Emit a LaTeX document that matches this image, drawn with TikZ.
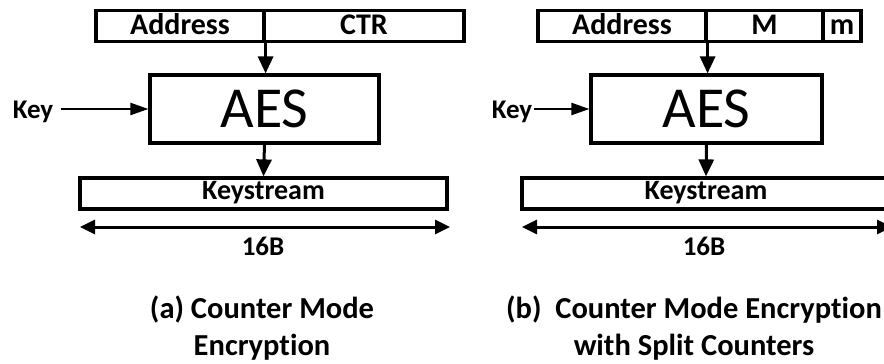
\documentclass[tikz,border=0pt]{standalone}
\usepackage{fontspec}
\setmainfont{Carlito}[Ligatures=NoCommon]
\usetikzlibrary{arrows.meta}
\begin{document}
\begin{tikzpicture}[x=1pt,y=-1pt,
  box/.style={draw, line width=3.2pt, inner sep=0pt},
  cell/.style={box, minimum height=31pt, text height=19.8pt, text depth=3pt, font=\bfseries\fontsize{30}{32}\selectfont},
  aesbox/.style={box, minimum height=68pt, font=\fontsize{58}{60}\selectfont},
  ksbox/.style={box, minimum height=31pt, text height=18.5pt, text depth=5.6pt, font=\bfseries\fontsize{28}{30}\selectfont},
  lbl/.style={inner sep=0pt, anchor=base, font=\bfseries\fontsize{27}{30}\selectfont},
  captext/.style={inner sep=0pt, anchor=base, font=\bfseries\fontsize{30.5}{36}\selectfont},
  varr/.style={line width=3pt, -{Triangle[length=17pt,width=15pt]}},
  karr/.style={line width=2.2pt, -{Triangle[length=18pt,width=12pt]}},
  darr/.style={line width=3pt, {Triangle[length=15pt,width=14pt]}-{Triangle[length=15pt,width=14pt]}}]
\useasboundingbox (0,0) rectangle (884,364);
\clip (0,0) rectangle (884,364);
% ---------- panel (a) ----------
\node[cell, minimum width=168pt] (addrA) at (180,26) {Address};
\node[cell, minimum width=200pt] (ctrA) at (364,26) {CTR};
\node[aesbox, minimum width=229pt] (aesA) at (264.5,109) {AES};
\node[ksbox, minimum width=367pt] (ksA) at (263.5,193.5) {Keystream};
\node[lbl] (keyA) at (33,118) {Key};
\coordinate (dlA) at (80,227);
\coordinate (drA) at (450,227);
\node[lbl] (bA) at (263,255) {16B};
\node[captext] (capA1) at (262,318) {(a) Counter Mode};
\node[captext] (capA2) at (262,355) {Encryption};
\draw[varr] (addrA.south east) -- (addrA.south east |- aesA.north);
\draw[varr] (aesA.south) -- (ksA.north);
\draw[karr] ([xshift=8pt]keyA.east |- aesA.west) -- (aesA.west);
\draw[darr] (dlA) -- (drA);
% ---------- panel (b) ----------
\node[cell, minimum width=168pt] (addrB) at (622,26) {Address};
\node[cell, minimum width=117pt] (MB) at (764.5,26) {M};
\node[cell, minimum width=38pt] (mB) at (842,26) {m};
\node[aesbox, minimum width=231pt] (aesB) at (706.5,109) {AES};
\node[ksbox, minimum width=368pt] (ksB) at (706,193.5) {Keystream};
\node[lbl] (keyB) at (512,118) {Key};
\coordinate (dlB) at (522,227);
\coordinate (drB) at (892,227);
\node[lbl] (bB) at (704,255) {16B};
\node[captext] (capB1) at (694,318) {(b)\ \ Counter Mode Encryption};
\node[captext] (capB2) at (694,355) {with Split Counters};
\draw[varr] (addrB.south east) -- (addrB.south east |- aesB.north);
\draw[varr] (aesB.south) -- (ksB.north);
\draw[karr] ([xshift=2pt]keyB.east |- aesB.west) -- (aesB.west);
\draw[darr] (dlB) -- (drB);
\end{tikzpicture}
\end{document}
